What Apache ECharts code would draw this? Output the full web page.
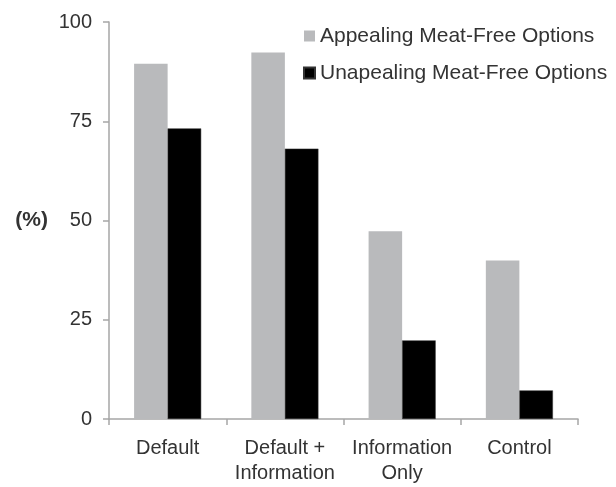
<!DOCTYPE html>
<html>
<head>
<meta charset="utf-8">
<script src="https://cdn.jsdelivr.net/npm/echarts@6/dist/echarts.min.js"></script>
<style>
html,body{margin:0;padding:0;background:#fff;}
#c{width:616px;height:487px;}
</style>
</head>
<body>
<div id="c"></div>
<script>
var categories = ['Default', 'Default +\nInformation', 'Information\nOnly', 'Control'];
var appealing = [89.5, 92.3, 47.3, 39.9];
var unappealing = [73.2, 68.1, 19.8, 7.2];
var yTicks = [0, 25, 50, 75, 100];

var chart = echarts.init(document.getElementById('c'), null, {renderer: 'canvas'});
var font = 'Liberation Sans, Arial, sans-serif';
chart.setOption({
  animation: false,
  backgroundColor: '#ffffff',
  grid: {left: 109, right: 38, top: 22, bottom: 68, containLabel: false},
  legend: {
    orient: 'vertical',
    left: 303,
    top: 25,
    padding: 0,
    itemWidth: 11,
    itemHeight: 11,
    itemGap: 15,
    icon: 'rect',
    textStyle: {fontFamily: font, fontSize: 21, color: '#333333', lineHeight: 22},
    data: ['Appealing Meat-Free Options', 'Unapealing Meat-Free Options']
  },
  xAxis: {
    type: 'category',
    data: categories,
    boundaryGap: true,
    axisLine: {lineStyle: {color: '#a6a6a6', width: 1.5}},
    axisTick: {show: true, length: 6, lineStyle: {color: '#a6a6a6', width: 1.5}},
    axisLabel: {fontFamily: font, fontSize: 20, color: '#333333', margin: 17, lineHeight: 25, interval: 0}
  },
  yAxis: {
    type: 'value',
    min: yTicks[0],
    max: yTicks[yTicks.length - 1],
    interval: 25,
    name: '(%)',
    nameLocation: 'middle',
    nameRotate: 0,
    nameGap: 61,
    nameTextStyle: {fontFamily: font, fontSize: 21, fontWeight: 'bold', color: '#333333'},
    axisLine: {show: true, lineStyle: {color: '#a6a6a6', width: 1.5}},
    axisTick: {show: true, length: 6, lineStyle: {color: '#a6a6a6', width: 1.5}},
    splitLine: {show: false},
    axisLabel: {fontFamily: font, fontSize: 20, color: '#333333', margin: 17}
  },
  series: [
    {
      name: 'Appealing Meat-Free Options',
      type: 'bar',
      data: appealing,
      barWidth: '28.6%',
      barGap: '0%',
      itemStyle: {color: '#b9babc'}
    },
    {
      name: 'Unapealing Meat-Free Options',
      type: 'bar',
      data: unappealing,
      barWidth: '28.6%',
      itemStyle: {color: '#000000', borderColor: '#333333', borderWidth: 0.5}
    }
  ]
});
</script>
</body>
</html>
